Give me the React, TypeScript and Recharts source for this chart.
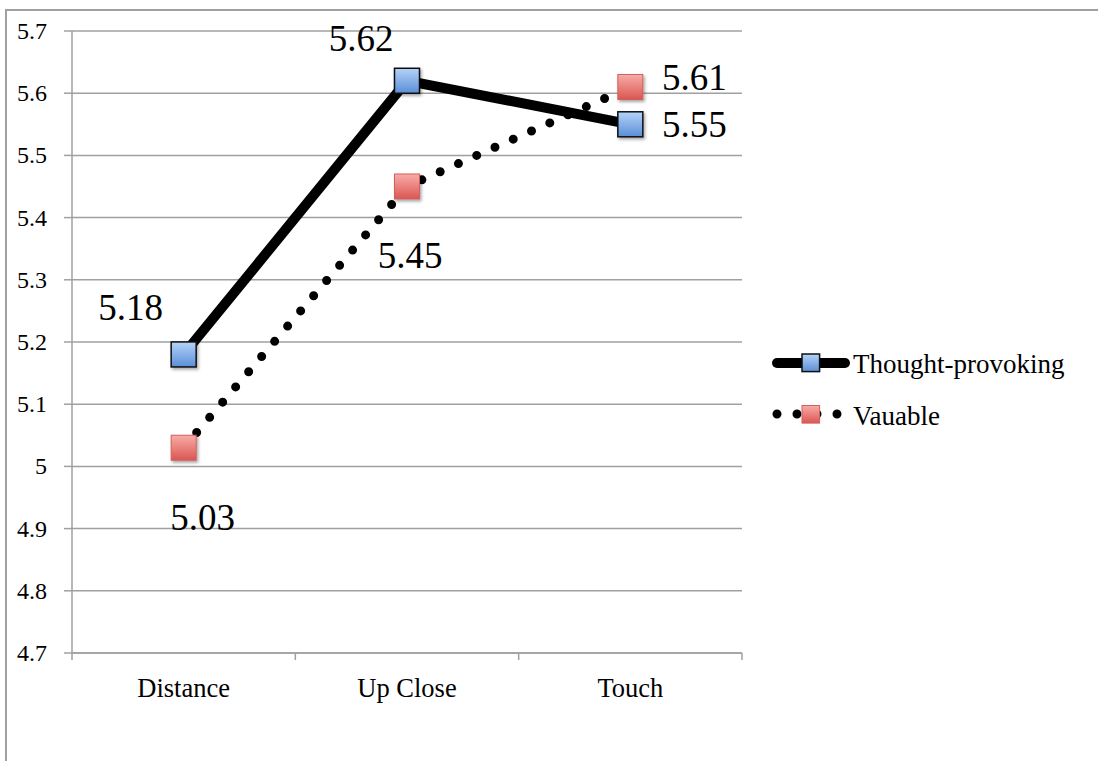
import React from 'react';
import { LineChart, Line, XAxis, YAxis, CartesianGrid } from 'recharts';

const categories = ['Distance', 'Up Close', 'Touch'];
const thoughtProvoking = [5.18, 5.62, 5.55];
const valuable = [5.03, 5.45, 5.61];
const yTicks = [4.7, 4.8, 4.9, 5.0, 5.1, 5.2, 5.3, 5.4, 5.5, 5.6, 5.7];
const seriesNames = ['Thought-provoking', 'Vauable'];

const data = categories.map((c, i) => ({
  category: c,
  thought: thoughtProvoking[i],
  valuable: valuable[i],
}));

const W = 1098;
const H = 761;
const MARGIN = { top: 31, right: 356, bottom: 48, left: 0 };
const Y_AXIS_W = 72;
const X_AXIS_H = 60;
const PLOT_W = W - MARGIN.right - MARGIN.left - Y_AXIS_W;
const FONT = "'Liberation Serif', 'Times New Roman', serif";
const GRID = '#a0a0a0';

// label placement (offset of label centre from the point), styling only
const labelOffsets: Record<string, [number, number][]> = {
  thought: [[-53, -46], [-46, -42], [64, 1]],
  valuable: [[19, 70], [3, 69], [64, -9]],
};

const markerStyle: Record<string, { fill: string; stroke: string; sw: number }> = {
  thought: { fill: 'url(#gradBlue)', stroke: '#111', sw: 1.5 },
  valuable: { fill: 'url(#gradRed)', stroke: '#d0615d', sw: 1 },
};

const makeDot = (key: string) => (props: any) => {
  const { cx, cy, index, value } = props;
  if (cx == null || cy == null) return <g key={`${key}-${index}`} />;
  const s = 25;
  const m = markerStyle[key];
  const [dx, dy] = labelOffsets[key][index] || [0, -40];
  const v = Array.isArray(value) ? value[1] : value;
  return (
    <g key={`${key}-${index}`}>
      <rect
        x={cx - s / 2}
        y={cy - s / 2}
        width={s}
        height={s}
        fill={m.fill}
        stroke={m.stroke}
        strokeWidth={m.sw}
        filter="url(#shadow)"
      />
      <text
        x={cx + dx}
        y={cy + dy + 12}
        textAnchor="middle"
        fontFamily={FONT}
        fontSize={37}
        fill="#000"
      >
        {v}
      </text>
    </g>
  );
};

const XTick = (props: any) => {
  const { x, y, payload, index } = props;
  const half = PLOT_W / categories.length / 2;
  return (
    <g>
      <line x1={x - half} x2={x - half} y1={y} y2={y + 7} stroke={GRID} strokeWidth={1.5} />
      {index === categories.length - 1 && (
        <line x1={x + half} x2={x + half} y1={y} y2={y + 7} stroke={GRID} strokeWidth={1.5} />
      )}
      <text x={x} y={y + 44} textAnchor="middle" fontFamily={FONT} fontSize={26.5} fill="#000">
        {payload.value}
      </text>
    </g>
  );
};

const fmt = (v: number) => String(Math.round(v * 10) / 10);

const YTick = (props: any) => {
  const { x, y, payload } = props;
  return (
    <text x={x} y={y + 8} textAnchor="end" fontFamily={FONT} fontSize={24} fill="#000">
      {fmt(payload.value)}
    </text>
  );
};

export default function App() {
  const pad = PLOT_W / categories.length / 2;
  return (
    <div
      style={{
        position: 'absolute',
        left: 0,
        top: 0,
        width: W,
        height: H,
        overflow: 'hidden',
        background: '#fff',
      }}
    >
      <div
        style={{
          position: 'absolute',
          left: 5,
          top: 9,
          width: 1200,
          height: 900,
          border: `2px solid ${GRID}`,
          boxSizing: 'border-box',
        }}
      />
      <div style={{ position: 'absolute', left: 0, top: 0 }}>
        <LineChart width={W} height={H} data={data} margin={MARGIN}>
          <CartesianGrid vertical={false} stroke={GRID} strokeWidth={1.5} />
          <XAxis
            dataKey="category"
            height={X_AXIS_H}
            padding={{ left: pad, right: pad }}
            interval={0}
            tickLine={false}
            tickSize={0}
            tickMargin={0}
            axisLine={{ stroke: GRID, strokeWidth: 1.5 }}
            tick={<XTick />}
          />
          <YAxis
            type="number"
            width={Y_AXIS_W}
            domain={[4.7, 5.7]}
            ticks={yTicks}
            interval={0}
            tickFormatter={fmt}
            tickSize={8}
            tickMargin={17}
            tickLine={{ stroke: GRID, strokeWidth: 1.5 }}
            axisLine={{ stroke: GRID, strokeWidth: 1.5 }}
            tick={<YTick />}
          />
          <Line
            dataKey="thought"
            name={seriesNames[0]}
            stroke="#000"
            strokeWidth={10}
            dot={makeDot('thought')}
            activeDot={false}
            isAnimationActive={false}
          />
          <Line
            dataKey="valuable"
            name={seriesNames[1]}
            stroke="#000"
            strokeWidth={9}
            strokeDasharray="0 20"
            strokeLinecap="round"
            dot={makeDot('valuable')}
            activeDot={false}
            isAnimationActive={false}
          />
        </LineChart>
      </div>
      <svg
        width={W}
        height={H}
        style={{ position: 'absolute', left: 0, top: 0, pointerEvents: 'none' }}
      >
        <defs>
          <linearGradient id="gradBlue" x1="0" y1="0" x2="0" y2="1">
            <stop offset="0%" stopColor="#b5d3f8" />
            <stop offset="100%" stopColor="#5a8ed8" />
          </linearGradient>
          <linearGradient id="gradRed" x1="0" y1="0" x2="0" y2="1">
            <stop offset="0%" stopColor="#f9aca8" />
            <stop offset="100%" stopColor="#da5652" />
          </linearGradient>
          <filter id="shadow" x="-40%" y="-40%" width="180%" height="180%">
            <feDropShadow dx="1.5" dy="2" stdDeviation="1.5" floodColor="#000" floodOpacity="0.35" />
          </filter>
        </defs>
        {/* Legend */}
        <g>
          <line x1={777} x2={845} y1={363} y2={363} stroke="#000" strokeWidth={10} strokeLinecap="round" />
          <rect x={802} y={354} width={17.6} height={17.6} fill="url(#gradBlue)" stroke="#111" strokeWidth={1.5} />
          <text x={853} y={373} fontFamily={FONT} fontSize={27} fill="#000">
            {seriesNames[0]}
          </text>
        </g>
        <g>
          <line
            x1={777}
            x2={838}
            y1={414}
            y2={414}
            stroke="#000"
            strokeWidth={9}
            strokeDasharray="0 20"
            strokeLinecap="round"
          />
          <rect x={802} y={405.5} width={17.6} height={17.6} fill="url(#gradRed)" stroke="#d0615d" strokeWidth={1} />
          <text x={853} y={425} fontFamily={FONT} fontSize={27} fill="#000">
            {seriesNames[1]}
          </text>
        </g>
      </svg>
    </div>
  );
}
